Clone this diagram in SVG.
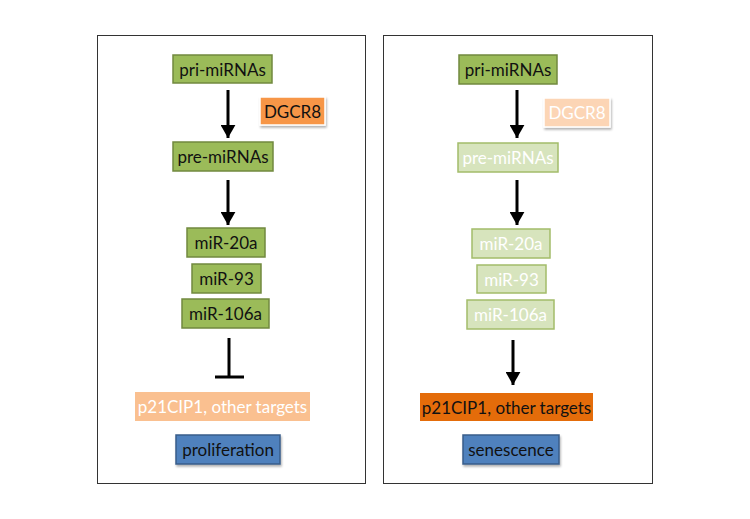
<svg xmlns="http://www.w3.org/2000/svg" width="750" height="519" viewBox="0 0 750 519">
<defs>
<marker id="ah" viewBox="0 0 10 10" refX="10" refY="5" markerWidth="4.4" markerHeight="5" orient="auto" markerUnits="strokeWidth" preserveAspectRatio="none">
<path d="M0,0 L10,5 L0,10 Z" fill="#000"/>
</marker>
<filter id="sh" x="-10%" y="-10%" width="130%" height="150%">
<feDropShadow dx="1" dy="2" stdDeviation="1.2" flood-color="#000" flood-opacity="0.3"/>
</filter>
</defs>
<style>
text{font-family:Lato,"Liberation Sans",sans-serif;font-size:17px;text-anchor:middle;dominant-baseline:central}
.frame{fill:#fff;stroke:#333;stroke-width:1}
.g{fill:#9BBB59;stroke:#71893F;stroke-width:1.5}
.gf{fill:#D7E4BD;stroke:#A3BC6A;stroke-width:1.5}
.dk{fill:#111}
.wt{fill:#fff}
.or{fill:#F79646;stroke:#fff;stroke-width:1.5}
.orf{fill:#FCD5B5;stroke:#fff;stroke-width:1.5}
.pe{fill:#FAC090}
.od{fill:#E46C0A}
.bl{fill:#4F81BD;stroke:#385D8A;stroke-width:1.5}
.con{stroke:#000;stroke-width:3;fill:none}
</style>
<rect class="frame" x="97.5" y="35.5" width="268" height="448"/>
<rect class="frame" x="383.5" y="35.5" width="269" height="448"/>

<g id="connectors">
<line class="con" x1="228" y1="90" x2="228" y2="138" marker-end="url(#ah)"/>
<line class="con" x1="228" y1="180" x2="228" y2="225" marker-end="url(#ah)"/>
<line class="con" x1="229" y1="338" x2="229" y2="377"/>
<line class="con" x1="215" y1="377" x2="244" y2="377"/>
<line class="con" x1="517" y1="90" x2="517" y2="138" marker-end="url(#ah)"/>
<line class="con" x1="517" y1="180" x2="517" y2="225" marker-end="url(#ah)"/>
<line class="con" x1="513" y1="340" x2="513" y2="385" marker-end="url(#ah)"/>
</g>

<g id="l-pri"><rect class="g" x="173" y="55" width="99" height="28"/><text class="dk" x="222.5" y="69">pri-miRNAs</text></g>
<g id="l-dgcr8"><rect class="or" x="260" y="97" width="65" height="28" filter="url(#sh)"/><text class="dk" x="292.5" y="111">DGCR8</text></g>
<g id="l-pre"><rect class="g" x="173" y="142" width="100" height="29"/><text class="dk" x="223" y="156.5">pre-miRNAs</text></g>
<g id="l-mir20a"><rect class="g" x="187" y="228" width="78" height="29"/><text class="dk" x="226" y="242.5">miR-20a</text></g>
<g id="l-mir93"><rect class="g" x="192" y="264" width="69" height="29"/><text class="dk" x="226.5" y="278.5">miR-93</text></g>
<g id="l-mir106a"><rect class="g" x="182" y="299" width="87" height="29"/><text class="dk" x="225.5" y="313.5">miR-106a</text></g>
<g id="l-p21"><rect class="pe" x="135" y="392" width="175" height="29"/><text class="wt" x="222.5" y="406.5">p21CIP1, other targets</text></g>
<g id="l-prolif"><rect class="bl" x="176" y="435" width="104" height="29" filter="url(#sh)"/><text class="dk" x="228" y="449.5">proliferation</text></g>

<g id="r-pri"><rect class="g" x="459" y="55" width="98" height="29"/><text class="dk" x="508" y="69.5">pri-miRNAs</text></g>
<g id="r-dgcr8"><rect class="orf" x="544" y="98" width="66" height="29" filter="url(#sh)"/><text class="wt" x="577" y="112.5">DGCR8</text></g>
<g id="r-pre"><rect class="gf" x="458" y="143" width="100" height="29"/><text class="wt" x="508" y="157.5">pre-miRNAs</text></g>
<g id="r-mir20a"><rect class="gf" x="472" y="229" width="78" height="29"/><text class="wt" x="511" y="243.5">miR-20a</text></g>
<g id="r-mir93"><rect class="gf" x="477" y="265" width="69" height="28"/><text class="wt" x="511.5" y="279">miR-93</text></g>
<g id="r-mir106a"><rect class="gf" x="467" y="300" width="87" height="29"/><text class="wt" x="510.5" y="314.5">miR-106a</text></g>
<g id="r-p21"><rect class="od" x="420" y="393" width="173" height="28"/><text class="dk" x="506.5" y="407">p21CIP1, other targets</text></g>
<g id="r-senes"><rect class="bl" x="463" y="435" width="96" height="29" filter="url(#sh)"/><text class="dk" x="511" y="449.5">senescence</text></g>
</svg>
